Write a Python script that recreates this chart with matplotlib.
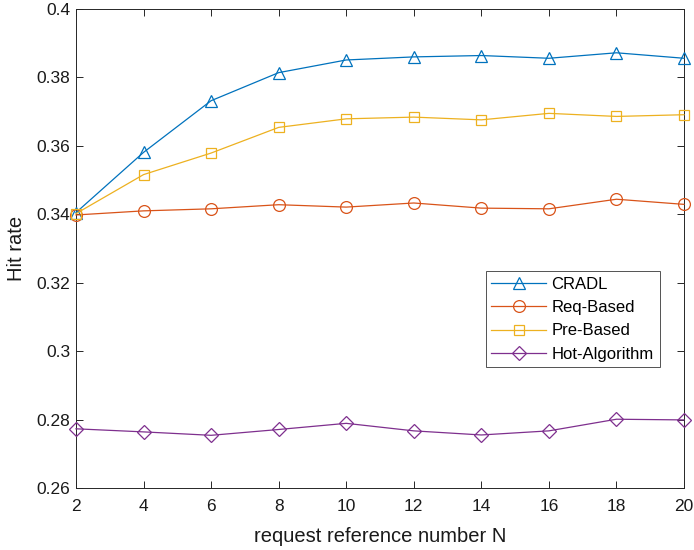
import numpy as np
import matplotlib
matplotlib.use("Agg")
import matplotlib.pyplot as plt

# request reference number N
n_values = [2, 4, 6, 8, 10, 12, 14, 16, 18, 20]

# hit rate per algorithm
cradl = [0.3405, 0.3581, 0.3732, 0.3814, 0.3851, 0.3860, 0.3864, 0.3856, 0.3872, 0.3856]
req_based = [0.3398, 0.3410, 0.3416, 0.3428, 0.3421, 0.3433, 0.3418, 0.3416, 0.3444, 0.3429]
pre_based = [0.3402, 0.3516, 0.3579, 0.3654, 0.3679, 0.3684, 0.3676, 0.3695, 0.3686, 0.3691]
hot_algorithm = [0.2773, 0.2764, 0.2754, 0.2771, 0.2789, 0.2767, 0.2755, 0.2767, 0.2801, 0.2799]

x_ticks = [2, 4, 6, 8, 10, 12, 14, 16, 18, 20]
y_ticks = [0.26, 0.28, 0.30, 0.32, 0.34, 0.36, 0.38, 0.40]
y_ticklabels = ["0.26", "0.28", "0.3", "0.32", "0.34", "0.36", "0.38", "0.4"]

plt.rcParams["font.family"] = ["Liberation Sans", "DejaVu Sans"]
axis_col = "#262626"

fig = plt.figure(figsize = (6.94, 5.5), dpi = 100)
ax = fig.add_axes([76/694, 1 - 488/550, 608/694, 479/550])

series = [
    (cradl, "CRADL", "#0072BD", "^", 8.5),
    (req_based, "Req-Based", "#D95319", "o", 8.5),
    (pre_based, "Pre-Based", "#EDB120", "s", 7),
    (hot_algorithm, "Hot-Algorithm", "#7E2F8E", "D", 7),
]
for vals, name, col, mk, ms in series :
    ax.plot(n_values, vals, color = col, lw = 0.9, marker = mk, markersize = ms,
        markerfacecolor = "none", markeredgecolor = col, markeredgewidth = 0.9,
        label = name, clip_on = False, zorder = 3)

ax.set_xlim(2, 20)
ax.set_ylim(0.26, 0.40)
ax.set_xticks(x_ticks)
ax.set_yticks(y_ticks)
ax.set_yticklabels(y_ticklabels)

ax.tick_params(axis = "both", which = "both", direction = "in", labelsize = 12.5,
    top = True, right = True, length = 5, width = 0.7, colors = axis_col,
    labelcolor = "#1a1a1a")
ax.tick_params(axis = "x", pad = 8)
ax.tick_params(axis = "y", pad = 4)
for sp in ax.spines.values() :
    sp.set_color(axis_col)
    sp.set_linewidth(0.7)

ax.set_xlabel("request reference number N", fontsize = 14.5, color = "#1a1a1a", labelpad = 9)
ax.set_ylabel("Hit rate", fontsize = 14.5, color = "#1a1a1a", labelpad = 8)

leg = ax.legend(loc = "lower left", bbox_to_anchor = (410/608, (488-367)/479, 174/608, 98/479),
    mode = "expand", fontsize = 12, frameon = True, fancybox = False, handlelength = 3.3,
    borderpad = 0.32, labelspacing = 0.5, handletextpad = 0.3, borderaxespad = 0)
leg.get_frame().set_edgecolor(axis_col)
leg.get_frame().set_linewidth(0.7)

fig.savefig("out.png", dpi = 100)
